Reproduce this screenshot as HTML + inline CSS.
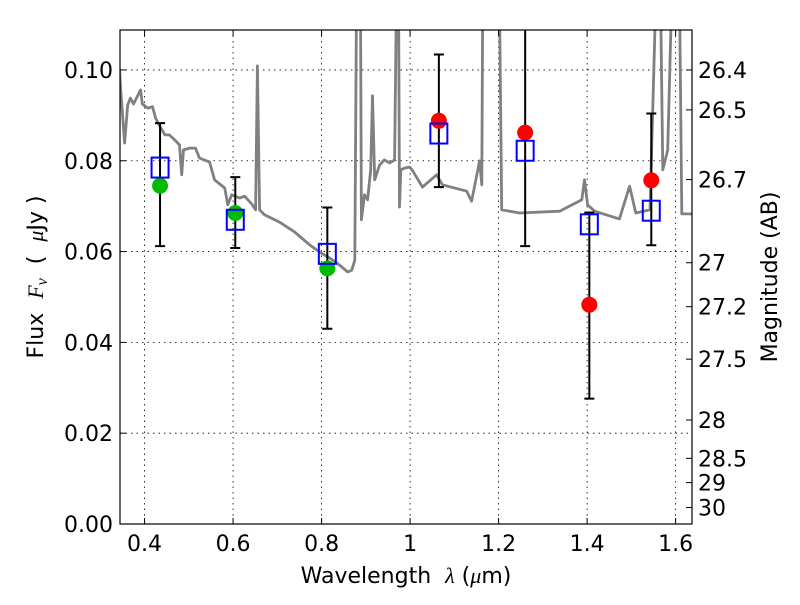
<!DOCTYPE html>
<html><head><meta charset="utf-8"><style>
body{margin:0;background:#fff;}
svg text{font-family:"DejaVu Sans","Liberation Sans",sans-serif;fill:#000;}
</style></head><body>
<svg id="chart" width="800" height="600" viewBox="0 0 800 600" xmlns="http://www.w3.org/2000/svg">
<defs><clipPath id="clip"><rect x="120" y="30" width="572" height="494"/></clipPath></defs>
<rect width="800" height="600" fill="#fff"/>
<g id="grid"></g>
<g id="plot" clip-path="url(#clip)"></g>
<g id="marks"></g>
<rect x="120" y="30" width="572" height="494" fill="none" stroke="#000" stroke-width="1.2"/>
<g id="axes"></g>
<text x="406" y="583" font-size="22" text-anchor="middle" xml:space="preserve">Wavelength  <tspan font-style="italic" font-family="Liberation Serif,serif">λ</tspan> (<tspan font-style="italic" font-family="Liberation Serif,serif">μ</tspan>m)</text>
<text transform="translate(43,277) rotate(-90)" font-size="22" text-anchor="middle" xml:space="preserve">Flux  <tspan font-style="italic" font-family="Liberation Serif,serif">F<tspan font-size="16" dy="4">ν</tspan></tspan><tspan dy="-4">  (  </tspan><tspan font-style="italic" font-family="Liberation Serif,serif">μ</tspan>Jy )</text>
<text transform="translate(777,277) rotate(-90)" font-size="22" text-anchor="middle">Magnitude (AB)</text>
</svg>
<script>
const xTicks=[0.4,0.6,0.8,1.0,1.2,1.4,1.6];
const xTickLabels=["0.4","0.6","0.8","1","1.2","1.4","1.6"];
const yTicks=[0,0.02,0.04,0.06,0.08,0.10];
const yTickLabels=["0.00","0.02","0.04","0.06","0.08","0.10"];
const magTicks=[26.4,26.5,26.7,27,27.2,27.5,28,28.5,29,30];
const specWl=[0.3435,0.346,0.355,0.362,0.368,0.375,0.391,0.395,0.407,0.418,0.425,0.434,0.446,0.456,0.468,0.479,0.484,0.488,0.502,0.515,0.524,0.547,0.558,0.581,0.588,0.597,0.615,0.626,0.642,0.651,0.655,0.660,0.671,0.705,0.739,0.773,0.795,0.818,0.841,0.859,0.868,0.875,0.879,0.888,0.890,0.897,0.904,0.911,0.915,0.920,0.931,0.942,0.954,0.965,0.969,0.974,0.976,0.979,0.988,0.999,1.006,1.028,1.060,1.073,1.128,1.139,1.157,1.162,1.164,1.202,1.207,1.247,1.338,1.388,1.394,1.401,1.417,1.473,1.496,1.510,1.542,1.555,1.566,1.571,1.582,1.591,1.609,1.614,1.636];
const specFlux=[0.1000,0.0956,0.0839,0.0923,0.0938,0.0925,0.0956,0.0925,0.0916,0.0919,0.0894,0.0877,0.0857,0.0857,0.0846,0.0835,0.0769,0.0824,0.0828,0.0828,0.0806,0.0797,0.0758,0.0740,0.0703,0.0725,0.0718,0.0722,0.0705,0.0692,0.1009,0.0692,0.0681,0.0665,0.0643,0.0615,0.0599,0.0586,0.0570,0.0555,0.0559,0.0581,0.115,0.115,0.0670,0.0725,0.0714,0.0780,0.0943,0.0758,0.0791,0.0802,0.0795,0.0802,0.115,0.115,0.0698,0.0780,0.0784,0.0786,0.0778,0.0742,0.0769,0.0747,0.0733,0.0711,0.0800,0.0747,0.115,0.115,0.0692,0.0685,0.0689,0.0714,0.0758,0.0703,0.0689,0.0672,0.0744,0.0685,0.0692,0.115,0.115,0.0780,0.0824,0.115,0.115,0.0683,0.0683];
const bandWl=[0.435,0.605,0.813,1.065,1.26,1.405,1.545];
const modelFlux=[0.0785,0.0670,0.0595,0.0860,0.0822,0.0660,0.0690];
const obsFlux=[0.0745,0.0685,0.0563,0.0888,0.0862,0.0483,0.0757];
const errLo=[0.0612,0.0608,0.0430,0.0742,0.0612,0.0276,0.0614];
const errHi=[0.0883,0.0764,0.0697,0.1034,0.1200,0.0686,0.0904];
const obsColor=["#00bb00","#00bb00","#00bb00","#ff0000","#ff0000","#ff0000","#ff0000"];

const X0=120,X1=692,Y0=524,Y1=30,xmin=0.3445,xmax=1.637,ymin=0,ymax=0.1088;
const sx=v=>X0+(v-xmin)/(xmax-xmin)*(X1-X0);
const sy=v=>Y0-(v-ymin)/(ymax-ymin)*(Y0-Y1);
const NS="http://www.w3.org/2000/svg";
function mk(parent,tag,attrs){const e=document.createElementNS(NS,tag);for(const k in attrs)e.setAttribute(k,attrs[k]);document.getElementById(parent).appendChild(e);return e;}

xTicks.forEach((t,i)=>{const x=sx(t);
 let g=mk('grid','line',{x1:x,x2:x,y1:Y1,y2:Y0,stroke:'#000','stroke-width':0.8,'stroke-dasharray':'1.5,4'});
 
 
 mk('axes','line',{x1:x,x2:x,y1:Y0,y2:Y0-6,stroke:'#000'});
 mk('axes','line',{x1:x,x2:x,y1:Y1,y2:Y1+6,stroke:'#000'});
 let tx=mk('axes','text',{x:x,y:Y0+27,'font-size':22,'text-anchor':'middle'});tx.textContent=xTickLabels[i];
 
 
});
yTicks.forEach((t,i)=>{const y=sy(t);
 let g=mk('grid','line',{x1:X0,x2:X1,y1:y,y2:y,stroke:'#000','stroke-width':0.8,'stroke-dasharray':'1.5,4'});
 
 
 mk('axes','line',{x1:X0,x2:X0+6,y1:y,y2:y,stroke:'#000'});
 let tx=mk('axes','text',{x:X0-7,y:y+8,'font-size':22,'text-anchor':'end'});tx.textContent=yTickLabels[i];
 
 
});
magTicks.forEach(m=>{const f=Math.pow(10,(23.9-m)/2.5);const y=sy(f);
 mk('axes','line',{x1:X1-6,x2:X1,y1:y,y2:y,stroke:'#000'});
 let tx=mk('axes','text',{x:X1+6,y:y+8,'font-size':22});tx.textContent=String(m);
 
 
});
let d=specWl.map((w,i)=>(i?'L':'M')+sx(w).toFixed(1)+','+sy(specFlux[i]).toFixed(1)).join(' ');
let sp=mk('plot','path',{d:d,fill:'none',stroke:'#808080','stroke-width':2.8,'stroke-linejoin':'round'});


bandWl.forEach((w,i)=>{const x=sx(w);
 const yl=sy(errLo[i]),yh=Math.max(sy(errHi[i]),Y1);
 let eb=mk('plot','path',{d:`M${x},${yl}L${x},${yh}M${x-5},${yl}L${x+5},${yl}M${x-5},${sy(errHi[i])}L${x+5},${sy(errHi[i])}`,stroke:'#000','stroke-width':2,fill:'none'});
 
 
 let c=mk('plot','circle',{cx:x,cy:sy(obsFlux[i]),r:8,fill:obsColor[i]});
 
 
 let s=mk('plot','rect',{x:x-8.5,y:sy(modelFlux[i])-10,width:17,height:20,fill:'none',stroke:'#0000ff','stroke-width':2});
 
 
});
</script>
</body></html>
